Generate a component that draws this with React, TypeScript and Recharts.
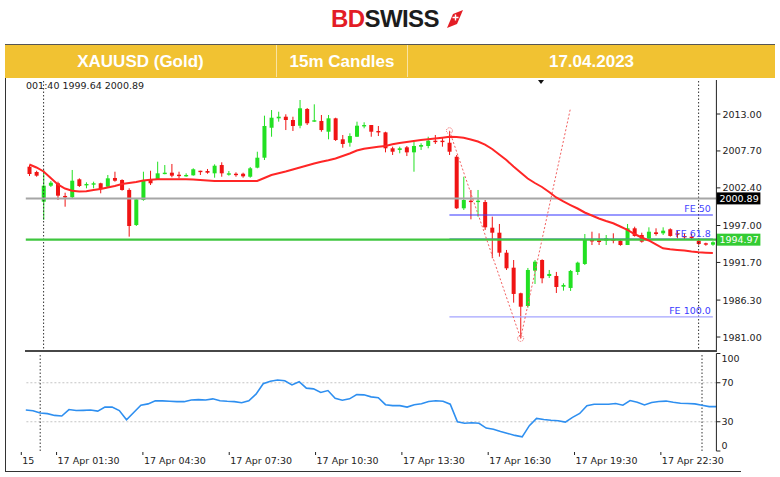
import React from "react";
import {
  ComposedChart,
  LineChart,
  Bar,
  Line,
  XAxis,
  YAxis,
  ReferenceLine,
  ReferenceDot,
} from "recharts";

// 15m candles, 17 Apr 2023
const OPEN = [
  2005.44, 2004.68, 2000.42, 2002.71, 2003.06, 2001.24, 2001.05, 2003.63, 2002.77, 2002.86,
  2003.06, 2002.57, 2003.82, 2003.53, 2002.1, 1997.07, 2000.66, 2003.63, 2003.63, 2004.39,
  2004.58, 2004.29, 2004.1, 2004.2, 2004.86, 2004.82, 2004.49, 2005.68, 2004.35, 2004.43,
  2004.43, 2004.0, 2005.3, 2006.73, 2011.03, 2012.38, 2012.61, 2012.14, 2011.32, 2013.72,
  2011.9, 2012.0, 2010.46, 2012.38, 2009.37, 2008.88, 2009.74, 2011.24, 2011.42, 2010.56,
  2010.37, 2008.08, 2007.84, 2008.22, 2007.5, 2008.31, 2008.41, 2009.17, 2009.17, 2008.88,
  2006.87, 1999.47, 2000.56, 2000.37, 2000.37, 1996.69, 1995.97, 1993.1, 1990.95, 1987.28,
  1985.45, 1990.52, 1992.05, 1989.76, 1989.76, 1988.22, 1988.04, 1990.33, 1991.48, 1994.92,
  1994.88, 1994.82, 1995.02, 1994.82, 1994.2, 1996.6, 1995.64, 1995.16, 1996.02, 1995.88,
  1996.46, 1995.88, 1995.5, 1995.4, 1994.82, 1994.45, 1994.25,
];
const HIGH = [
  2005.68, 2004.86, 2004.97, 2003.39, 2003.29, 2001.71, 2004.97, 2003.77, 2003.2, 2003.29,
  2003.14, 2004.25, 2004.72, 2003.63, 2002.34, 2000.95, 2004.72, 2004.86, 2006.16, 2005.68,
  2005.83, 2004.72, 2004.49, 2005.21, 2004.86, 2005.11, 2005.78, 2006.07, 2004.82, 2004.63,
  2004.58, 2005.4, 2007.59, 2012.76, 2013.57, 2013.33, 2012.96, 2012.61, 2015.01, 2013.86,
  2014.39, 2012.86, 2012.86, 2012.47, 2009.99, 2010.23, 2011.9, 2011.81, 2011.42, 2011.28,
  2010.46, 2008.31, 2008.31, 2008.41, 2009.03, 2008.8, 2009.74, 2009.99, 2009.6, 2010.56,
  2007.12, 2004.0, 2002.1, 2002.1, 2000.66, 1998.27, 1997.22, 1993.49, 1992.05, 1987.36,
  1990.91, 1992.05, 1992.15, 1990.62, 1990.34, 1988.71, 1990.62, 1991.81, 1995.78, 1996.11,
  1995.88, 1995.64, 1995.88, 1995.02, 1997.22, 1996.83, 1995.97, 1996.74, 1996.6, 1996.74,
  1996.6, 1996.26, 1995.88, 1995.78, 1995.16, 1994.54, 1994.75,
];
const LOW = [
  2004.1, 2004.0, 1997.79, 2002.53, 2000.66, 1999.7, 2000.95, 2002.53, 2002.34, 2002.34,
  2001.62, 2002.48, 2003.29, 2002.0, 1995.4, 1996.93, 2000.56, 2002.81, 2003.6, 2004.35,
  2003.92, 2003.77, 2004.0, 2004.15, 2004.25, 2004.43, 2003.86, 2004.0, 2004.15, 2004.0,
  2003.86, 2003.86, 2005.21, 2006.4, 2009.74, 2011.9, 2010.7, 2010.56, 2010.95, 2011.42,
  2011.88, 2010.46, 2009.37, 2009.13, 2008.16, 2008.31, 2009.7, 2010.95, 2009.74, 2009.84,
  2007.5, 2007.12, 2007.36, 2006.97, 2004.72, 2007.84, 2008.08, 2008.7, 2008.31, 2007.12,
  1999.37, 1999.23, 1997.89, 1998.27, 1996.36, 1992.3, 1992.53, 1990.62, 1985.93, 1980.8,
  1985.21, 1988.61, 1988.71, 1989.47, 1987.32, 1987.65, 1987.61, 1989.9, 1991.33, 1994.2,
  1994.2, 1994.2, 1994.45, 1994.1, 1994.2, 1995.4, 1994.54, 1995.02, 1995.54, 1995.64,
  1995.4, 1995.16, 1995.02, 1995.02, 1994.2, 1994.1, 1994.1,
];
const CLOSE = [
  2004.39, 2004.15, 2002.71, 2003.14, 2001.28, 2001.05, 2003.43, 2002.67, 2002.96, 2003.06,
  2002.24, 2003.77, 2003.43, 2002.1, 1996.93, 2000.76, 2003.53, 2003.06, 2004.49, 2004.58,
  2004.15, 2004.1, 2004.25, 2005.07, 2004.72, 2004.58, 2005.58, 2004.49, 2004.49, 2004.29,
  2004.06, 2005.21, 2006.73, 2011.28, 2012.47, 2012.61, 2012.14, 2011.28, 2013.82, 2011.67,
  2012.1, 2010.7, 2012.38, 2009.27, 2008.7, 2009.84, 2011.32, 2011.42, 2010.46, 2010.37,
  2008.08, 2007.59, 2008.08, 2007.5, 2008.41, 2008.55, 2009.17, 2008.98, 2008.98, 2007.59,
  1999.47, 2000.66, 2000.37, 2000.56, 1996.74, 1995.97, 1993.1, 1990.86, 1987.18, 1985.35,
  1990.62, 1991.81, 1989.43, 1990.05, 1988.18, 1988.47, 1990.48, 1991.67, 1994.92, 1994.73,
  1994.63, 1995.16, 1994.82, 1994.2, 1996.6, 1995.5, 1994.68, 1996.11, 1995.78, 1996.26,
  1995.5, 1995.68, 1995.31, 1995.26, 1994.35, 1994.25, 1994.6,
];
// red moving average
const MA = [
  2005.76, 2005.33, 2004.75, 2003.82, 2002.89, 2002.31, 2002.0, 2001.88, 2001.91, 2002.1,
  2002.24, 2002.45, 2002.67, 2002.96, 2003.1, 2003.24, 2003.46, 2003.56, 2003.63, 2003.63,
  2003.63, 2003.63, 2003.63, 2003.6, 2003.53, 2003.46, 2003.39, 2003.39, 2003.39, 2003.39,
  2003.39, 2003.39, 2003.39, 2003.82, 2004.25, 2004.49, 2004.75, 2005.04, 2005.32, 2005.61,
  2005.9, 2006.14, 2006.36, 2006.62, 2006.97, 2007.33, 2007.76, 2008.02, 2008.16, 2008.29,
  2008.41, 2008.67, 2008.84, 2008.98, 2009.13, 2009.27, 2009.37, 2009.48, 2009.61, 2009.73,
  2009.7, 2009.59, 2009.34, 2009.05, 2008.62, 2007.98, 2007.19, 2006.4, 2005.47, 2004.61,
  2003.75, 2003.1, 2002.53, 2001.81, 2001.02, 2000.45, 1999.94, 1999.44, 1998.87, 1998.44,
  1998.01, 1997.65, 1997.32, 1996.86, 1996.36, 1995.78, 1995.28, 1994.85, 1994.28, 1993.73,
  1993.59, 1993.49, 1993.41, 1993.27, 1993.16, 1993.1, 1993.06,
];
// RSI sub-window
const RSI = [
  42, 41.3, 39, 38.3, 36.5, 35.9, 42.5, 41.5, 41.7, 42,
  40.9, 45, 45, 41.5, 32, 39.5, 47, 48.3, 51.4, 51.4,
  51, 50.6, 50.6, 52.3, 52.7, 52.3, 53.5, 51.6, 51, 50.6,
  49.5, 51.5, 58.3, 69, 71.5, 72.8, 72, 67.8, 71.1, 64.5,
  63.7, 60, 62, 54, 52, 53.5, 57.8, 57.6, 55.5, 54.7,
  47.5, 46.5, 46.5, 45, 47.5, 48.5, 50.8, 51.5, 51.1, 48,
  30, 28.5, 29, 28.5, 23.5, 22.3, 20, 18, 16, 14.5,
  26, 33.5, 32.3, 31.5, 31, 29.6, 34.5, 38.5, 46.5, 47.9,
  47.9, 48, 48.7, 47, 51.8, 50, 47.3, 49.8, 50.8, 51.2,
  50, 49, 48.7, 48.3, 47, 45.5, 45.5,
];

const pad = (n: number) => String(n).padStart(2, "0");
// bar times, every 15 minutes from 00:30
const TIMES = OPEN.map((_, i) => {
  const m = 30 + 15 * i;
  const day = m >= 1440 ? 18 : 17;
  const mm = m % 1440;
  return `${day} Apr ${pad(Math.floor(mm / 60))}:${pad(mm % 60)}`;
});

const X_TICK_IDX = [0, 4, 16, 28, 40, 52, 64, 76, 88];
const PRICE_TICKS = [1981.0, 1986.3, 1991.7, 1997.0, 2002.4, 2007.7, 2013.0];
const RSI_TICKS = [0, 30, 70, 100];

const LAST_ASK = 2000.89;
const LAST_BID = 1994.97;
const FE_LEVELS = [
  { name: "FE 50", value: 1998.51, color: "#3434ff" },
  { name: "FE 61.8", value: 1995.05, color: "#5050ff" },
  { name: "FE 100.0", value: 1983.9, color: "#a4a4ff" },
];
// fibo expansion anchor points (bar index, price)
const FIB_A = { i: 59, p: 2010.6 };
const FIB_B = { i: 69, p: 1980.8 };
const FIB_C = { i: 76, p: 2013.8 };
const MARK_BARS = [2, 94];

const rows = TIMES.map((t, i) => ({
  t,
  o: OPEN[i],
  h: HIGH[i],
  l: LOW[i],
  c: CLOSE[i],
  range: [LOW[i], HIGH[i]],
  ma: MA[i],
  rsi: RSI[i],
}));

const GREEN = "#22e022";
const RED = "#f01414";
const FONT = "'DejaVu Sans', Verdana, sans-serif";
const W = 780;
const PLOT_L = 25.8;
const AXIS_W = 63.6;

function Candle(props: any) {
  const { x, y, width, height, payload } = props;
  if (!payload) return null;
  const top = height < 0 ? y + height : y;
  const hh = Math.abs(height);
  const span = payload.h - payload.l || 1;
  const k = hh / span;
  const cx = x + width / 2;
  const yO = top + (payload.h - payload.o) * k;
  const yC = top + (payload.h - payload.c) * k;
  const color = payload.c >= payload.o ? GREEN : RED;
  const bTop = Math.min(yO, yC);
  const bH = Math.max(Math.abs(yO - yC), 1.4);
  return (
    <g>
      <line x1={cx} x2={cx} y1={top} y2={top + hh} stroke={color} strokeWidth={1} />
      <rect x={cx - 2} y={bTop} width={4} height={bH} fill={color} />
    </g>
  );
}

function PriceTick(props: any) {
  const { x, y, payload } = props;
  return (
    <g>
      <line x1={x} x2={x + 4} y1={y} y2={y} stroke="#222" />
      <text x={x + 6} y={y + 3.5} fontSize={9.5} fontFamily={FONT} fill="#222">
        {Number(payload.value).toFixed(2)}
      </text>
    </g>
  );
}

function RsiTick(props: any) {
  const { x, y, payload } = props;
  const v = payload.value;
  const dy = v === 100 ? 8 : v === 0 ? -2 : 3.5;
  return (
    <g>
      <line x1={x} x2={x + 4} y1={y} y2={y} stroke="#222" />
      <text x={x + 5} y={y + dy} fontSize={9.5} fontFamily={FONT} fill="#222">
        {v}
      </text>
    </g>
  );
}

function TimeTick(props: any) {
  const { x, y, payload, index } = props;
  const first = payload.value === TIMES[0];
  const tx = first ? x - 4.5 : x + 2;
  return (
    <g>
      <line x1={tx} x2={tx} y1={y + 1} y2={y + 4} stroke="#222" />
      <text x={tx + 1} y={y + 13} fontSize={9.5} fontFamily={FONT} fill="#222">
        {first ? "15" : payload.value}
      </text>
    </g>
  );
}

function TagLabel(props: any) {
  const vb = props.viewBox || {};
  const x = (vb.x ?? 0) + (vb.width ?? 0);
  const y = vb.y ?? 0;
  return (
    <g>
      <rect x={x} y={y - 6} width={44} height={12} fill={props.bg} />
      <text x={x + 3} y={y + 3.5} fontSize={9.5} fontFamily={FONT} fill="#fff">
        {props.text}
      </text>
    </g>
  );
}

function FeLabel(props: any) {
  const vb = props.viewBox || {};
  const x = (vb.x ?? 0) + (vb.width ?? 0) - 2;
  const y = vb.y ?? 0;
  return (
    <text x={x} y={y - 2.5} textAnchor="end" fontSize={9.5} fontFamily={FONT} fill={props.color}>
      {props.text}
    </text>
  );
}

export default function App() {
  return (
    <div
      style={{
        position: "absolute",
        left: 0,
        top: 0,
        width: W,
        height: 477,
        background: "#fff",
        overflow: "hidden",
        fontFamily: FONT,
      }}
    >
      {/* logo */}
      <div
        style={{
          position: "absolute",
          left: 331,
          top: 5,
          fontFamily: "'Liberation Sans', Arial, sans-serif",
          fontWeight: 700,
          fontSize: 24,
          letterSpacing: -0.6,
        }}
      >
        <span style={{ color: "#e31d25" }}>BD</span>
        <span style={{ color: "#1c1c1c" }}>SWISS</span>
      </div>
      <svg style={{ position: "absolute", left: 446, top: 10 }} width={18} height={20}>
        <polygon points="1,18 7,4 17,0 11,14" fill="#e31d25" />
        <path d="M9.5 4.5v6M6.5 7.5h6" stroke="#fff" strokeWidth={1.4} />
      </svg>

      {/* header bar */}
      <div
        style={{
          position: "absolute",
          left: 5,
          top: 44,
          width: 770,
          height: 34,
          background: "#f1c232",
          borderTop: "1.5px solid #555",
          boxSizing: "border-box",
          color: "#fff",
          fontFamily: "'Liberation Sans', Arial, sans-serif",
          fontWeight: 700,
          fontSize: 17,
        }}
      >
        {[
          { text: "XAUUSD (Gold)", l: 0, w: 272 },
          { text: "15m Candles", l: 272, w: 131 },
          { text: "17.04.2023", l: 403, w: 367 },
        ].map((c) => (
          <div
            key={c.text}
            style={{
              position: "absolute",
              left: c.l,
              width: c.w,
              top: 0,
              height: 32,
              lineHeight: "34px",
              textAlign: "center",
              borderRight: c.l < 400 ? "1px solid rgba(255,255,255,0.55)" : "none",
              boxSizing: "border-box",
            }}
          >
            {c.text}
          </div>
        ))}
      </div>

      {/* frame */}
      <div style={{ position: "absolute", left: 5, top: 78, width: 1.2, height: 394, background: "#333" }} />
      <div style={{ position: "absolute", left: 5, top: 471, width: 736, height: 1.2, background: "#333" }} />

      {/* data window text */}
      <div
        style={{ position: "absolute", left: 26, top: 80, fontSize: 9.5, color: "#222", fontFamily: FONT }}
      >
        001:40 1999.64 2000.89
      </div>
      <svg style={{ position: "absolute", left: 538, top: 80 }} width={8} height={6}>
        <polygon points="0,0 6,0 3,4" fill="#111" />
      </svg>

      {/* price window */}
      <div style={{ position: "absolute", left: 0, top: 78 }}>
        <ComposedChart
          width={W}
          height={274}
          data={rows}
          margin={{ top: 2, right: 0, left: PLOT_L, bottom: 0 }}
        >
          <XAxis dataKey="t" hide />
          <YAxis
            orientation="right"
            domain={[1978.85, 2017.88]}
            allowDataOverflow
            ticks={PRICE_TICKS}
            interval={0}
            width={AXIS_W}
            tick={<PriceTick />}
            tickSize={0}
            tickMargin={0}
            tickLine={false}
            axisLine={{ stroke: "#222" }}
          />
          {MARK_BARS.map((i) => (
            <ReferenceLine key={i} x={TIMES[i]} stroke="#333" strokeDasharray="1.5 2" />
          ))}
          <ReferenceLine y={LAST_ASK} stroke="#a6a6a6" strokeWidth={2} />
          {FE_LEVELS.map((f) => (
            <ReferenceLine
              key={f.name}
              segment={[
                { x: TIMES[FIB_A.i], y: f.value },
                { x: TIMES[TIMES.length - 1], y: f.value },
              ]}
              stroke={f.color}
              strokeWidth={1.2}
              label={<FeLabel text={f.name} color={f.name === "FE 100.0" ? "#3a3aff" : "#4444ff"} />}
            />
          ))}
          <ReferenceLine y={LAST_BID} stroke="#3fc63f" strokeWidth={2.4} />
          <ReferenceLine
            segment={[
              { x: TIMES[FIB_A.i], y: FIB_A.p },
              { x: TIMES[FIB_B.i], y: FIB_B.p },
            ]}
            stroke="#f26060"
            strokeDasharray="2 2"
          />
          <ReferenceLine
            segment={[
              { x: TIMES[FIB_B.i], y: FIB_B.p },
              { x: TIMES[FIB_C.i], y: FIB_C.p },
            ]}
            stroke="#f26060"
            strokeDasharray="2 2"
          />
          <ReferenceDot x={TIMES[FIB_A.i]} y={FIB_A.p} r={3} fill="none" stroke="#f26060" strokeDasharray="1 1" />
          <ReferenceDot x={TIMES[FIB_B.i]} y={FIB_B.p} r={3} fill="none" stroke="#f26060" strokeDasharray="1 1" />
          <Bar dataKey="range" shape={(p: any) => <Candle {...p} />} isAnimationActive={false} />
          <Line
            dataKey="ma"
            type="linear"
            stroke="#ff2626"
            strokeWidth={2}
            dot={false}
            isAnimationActive={false}
          />
          <ReferenceLine y={LAST_ASK} stroke="none" label={<TagLabel text="2000.89" bg="#000" />} />
          <ReferenceLine y={LAST_BID} stroke="none" label={<TagLabel text="1994.97" bg="#33cc33" />} />
        </ComposedChart>
      </div>

      {/* window separator */}
      <div style={{ position: "absolute", left: 25, top: 349.5, width: 691.5, height: 2.6, background: "#474747" }} />

      {/* RSI window */}
      <div style={{ position: "absolute", left: 0, top: 352 }}>
        <LineChart
          width={W}
          height={125}
          data={rows}
          margin={{ top: 1.5, right: 0, left: PLOT_L, bottom: 6 }}
        >
          <XAxis
            dataKey="t"
            ticks={X_TICK_IDX.map((i) => TIMES[i])}
            interval={0}
            height={20}
            tick={<TimeTick />}
            tickSize={0}
            tickMargin={0}
            tickLine={false}
            axisLine={false}
          />
          <YAxis
            orientation="right"
            domain={[0, 100]}
            ticks={RSI_TICKS}
            interval={0}
            width={AXIS_W}
            tick={<RsiTick />}
            tickSize={0}
            tickMargin={0}
            tickLine={false}
            axisLine={{ stroke: "#222" }}
          />
          <ReferenceLine y={70} stroke="#c4c4c4" strokeDasharray="2 2" />
          <ReferenceLine y={30} stroke="#c4c4c4" strokeDasharray="2 2" />
          {MARK_BARS.map((i) => (
            <ReferenceLine key={i} x={TIMES[i]} stroke="#333" strokeDasharray="1.5 2" />
          ))}
          <Line
            dataKey="rsi"
            type="linear"
            stroke="#2e8ff0"
            strokeWidth={1.6}
            dot={false}
            isAnimationActive={false}
          />
        </LineChart>
      </div>
    </div>
  );
}
